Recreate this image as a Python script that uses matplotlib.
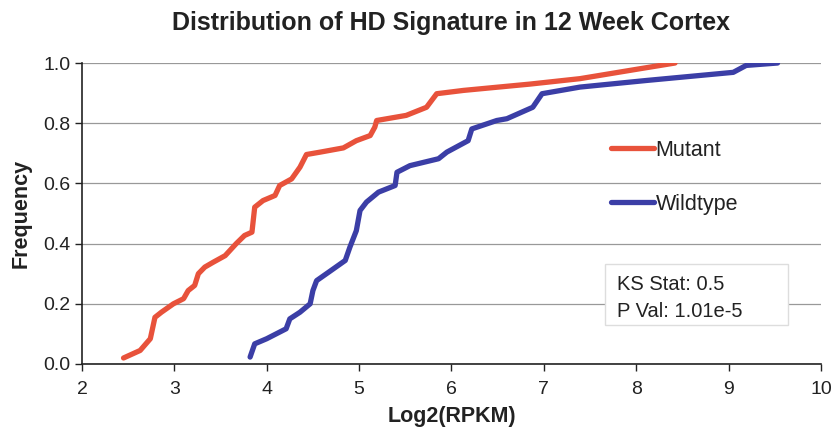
import matplotlib.pyplot as plt
from matplotlib.patches import Rectangle

plt.rcParams['font.family'] = ['Liberation Sans', 'DejaVu Sans']

# cumulative frequency curves, read as (log2 RPKM, frequency) pairs
mutant_x = [2.45, 2.63, 2.74, 2.79, 2.86, 2.99, 3.10, 3.15, 3.22, 3.26, 3.33, 3.42,
            3.55, 3.67, 3.76, 3.84, 3.87, 3.96, 4.09, 4.14, 4.27, 4.36, 4.43, 4.58,
            4.83, 4.97, 5.12, 5.17, 5.19, 5.51, 5.73, 5.84, 6.13, 6.85, 7.39, 8.04, 8.42]
mutant_y = [0.02, 0.045, 0.084, 0.155, 0.172, 0.20, 0.217, 0.244, 0.261, 0.30, 0.322, 0.338,
            0.36, 0.40, 0.427, 0.438, 0.521, 0.543, 0.56, 0.593, 0.615, 0.654, 0.696, 0.704,
            0.718, 0.742, 0.759, 0.787, 0.809, 0.826, 0.853, 0.898, 0.909, 0.93, 0.948, 0.981, 1.0]

wildtype_x = [3.82, 3.87, 4.00, 4.21, 4.25, 4.36, 4.47, 4.50, 4.54, 4.67, 4.85, 4.90,
              4.97, 5.01, 5.08, 5.21, 5.39, 5.41, 5.55, 5.86, 5.95, 6.18, 6.22, 6.49,
              6.60, 6.88, 6.98, 7.39, 8.11, 9.05, 9.19, 9.53]
wildtype_y = [0.023, 0.067, 0.084, 0.117, 0.15, 0.172, 0.20, 0.244, 0.277, 0.305, 0.344, 0.388,
              0.443, 0.51, 0.538, 0.571, 0.593, 0.637, 0.659, 0.682, 0.704, 0.742, 0.781, 0.809,
              0.815, 0.853, 0.898, 0.92, 0.942, 0.969, 0.992, 1.0]

x_ticks = [2, 3, 4, 5, 6, 7, 8, 9, 10]
y_ticks = [0.0, 0.2, 0.4, 0.6, 0.8, 1.0]

fig = plt.figure(figsize=(8.33, 4.34), dpi=100)
ax = fig.add_axes([0.0984, 0.1613, 0.8872, 0.6935])

red = '#e8523b'
blue = '#3b3ea6'
ax.plot(mutant_x, mutant_y, color=red, lw=3.8, solid_capstyle='round', label='Mutant', zorder=3)
ax.plot(wildtype_x, wildtype_y, color=blue, lw=3.8, solid_capstyle='round', label='Wildtype', zorder=3)

ax.set_xlim(2, 10)
ax.set_ylim(0, 1.0)
ax.set_xticks(x_ticks)
ax.set_yticks(y_ticks)
ax.set_yticklabels([f'{v:.1f}' for v in y_ticks])
ax.tick_params(axis='both', labelsize=14, colors='#222222', length=5, width=1)
ax.tick_params(axis='x', pad=7)
ax.grid(axis='y', color='#999999', lw=0.9)
ax.set_axisbelow(True)
for s in ['top', 'right']:
    ax.spines[s].set_visible(False)
for s in ['left', 'bottom']:
    ax.spines[s].set_color('#222222')
    ax.spines[s].set_linewidth(1.2)

ax.set_title('Distribution of HD Signature in 12 Week Cortex', fontsize=18,
             fontweight='bold', color='#222222', pad=24)
ax.set_xlabel('Log2(RPKM)', fontsize=15.5, fontweight='bold', color='#222222', labelpad=6)
ax.set_ylabel('Frequency', fontsize=15.5, fontweight='bold', color='#222222', labelpad=8)

leg = ax.legend(loc='upper left', bbox_to_anchor=(0.69, 0.81), frameon=False,
                fontsize=15.5, handlelength=2.0, handletextpad=0.05, labelspacing=1.55)
for t in leg.get_texts():
    t.set_color('#222222')

# KS test annotation box
box = Rectangle((0.7077, 0.128), 0.2476, 0.203, transform=ax.transAxes,
                facecolor='white', edgecolor='#dddddd', lw=1, zorder=4)
ax.add_patch(box)
ax.text(0.724, 0.265, 'KS Stat: 0.5', transform=ax.transAxes, fontsize=14.5,
        color='#222222', va='center', zorder=5)
ax.text(0.724, 0.175, 'P Val: 1.01e-5', transform=ax.transAxes, fontsize=14.5,
        color='#222222', va='center', zorder=5)

fig.savefig('out.png', dpi=100)
